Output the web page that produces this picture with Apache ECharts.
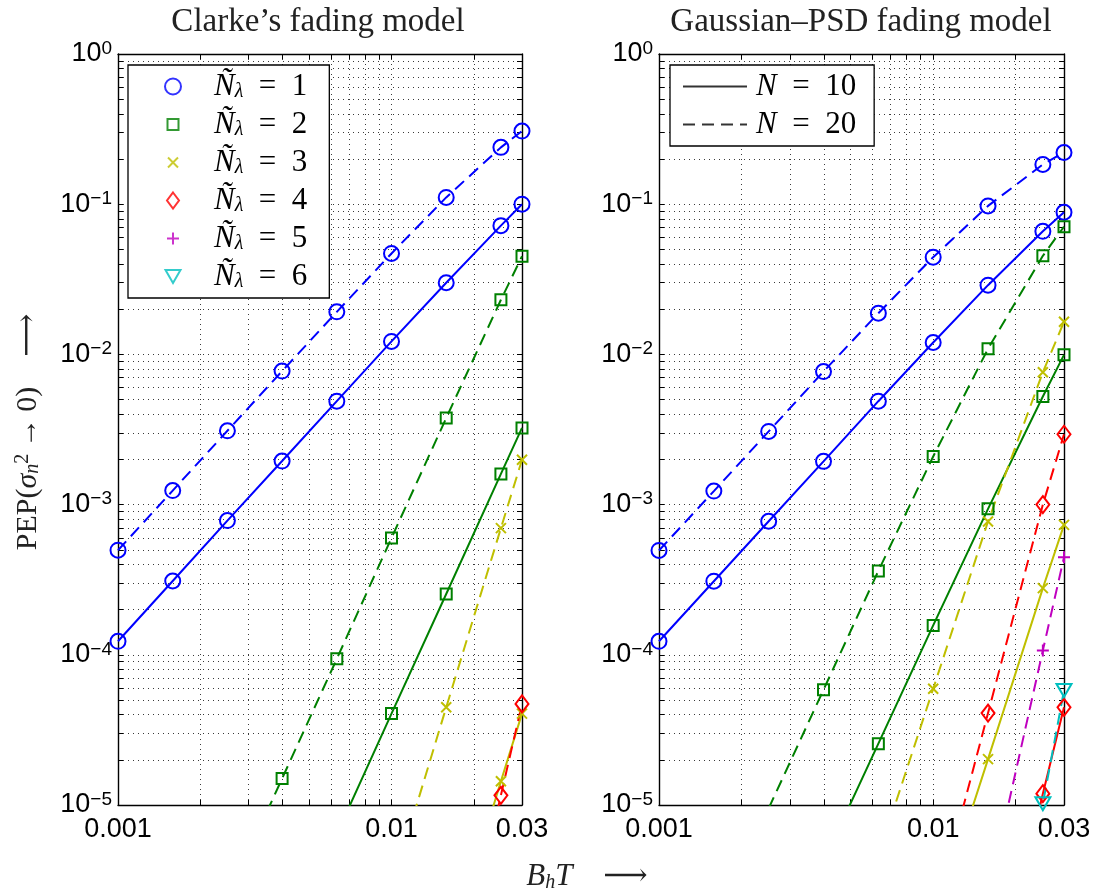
<!DOCTYPE html>
<html><head><meta charset="utf-8">
<script src="https://cdn.jsdelivr.net/npm/echarts@6/dist/echarts.min.js"></script>
<style>html,body{margin:0;padding:0;background:#fff}#c{width:1096px;height:892px}</style>
</head><body><div id="c"></div>
<script>
// ---- data ----
const bhT = [0.001, 0.001585, 0.002512, 0.003981, 0.00631, 0.01, 0.01585, 0.02512, 0.03];

// Clarke's fading model, N = 10 (solid)
const clarkeN10_1 = [1.23e-4, 3.10e-4, 7.83e-4, 1.95e-3, 4.88e-3, 0.0122, 0.0300, 0.0720, 0.100];
const clarkeN10_2 = [null, null, null, null, 6.4e-6, 4.06e-5, 2.54e-4, 1.60e-3, 3.24e-3];
const clarkeN10_3 = [null, null, null, null, null, null, 9e-7, 1.44e-5, 4.06e-5];
// Clarke's fading model, N = 20 (dashed)
const clarkeN20_1 = [4.97e-4, 1.24e-3, 3.10e-3, 7.74e-3, 0.0192, 0.0470, 0.111, 0.239, 0.307];
const clarkeN20_2 = [null, null, 2.4e-6, 1.50e-5, 9.4e-5, 6.0e-4, 3.77e-3, 0.0231, 0.0450];
const clarkeN20_3 = [null, null, null, null, null, 2.8e-6, 4.47e-5, 6.97e-4, 1.99e-3];
const clarkeN20_4 = [null, null, null, null, null, null, 2.9e-7, 1.16e-5, 4.71e-5];

// Gaussian-PSD fading model, N = 10 (solid)
const gaussN10_1 = [1.23e-4, 3.09e-4, 7.75e-4, 1.94e-3, 4.88e-3, 0.0120, 0.0289, 0.0660, 0.0884];
const gaussN10_2 = [null, null, null, 4.2e-6, 2.56e-5, 1.57e-4, 9.37e-4, 5.24e-3, 9.93e-3];
const gaussN10_3 = [null, null, null, null, null, 1.5e-6, 2.02e-5, 2.78e-4, 7.33e-4];
const gaussN10_4 = [null, null, null, null, null, null, 3e-7, 1.19e-5, 4.47e-5];
// Gaussian-PSD fading model, N = 20 (dashed)
const gaussN20_1 = [4.95e-4, 1.23e-3, 3.07e-3, 7.69e-3, 0.0188, 0.0444, 0.0974, 0.184, 0.221];
const gaussN20_2 = [null, null, 9.5e-6, 5.85e-5, 3.62e-4, 2.09e-3, 0.0109, 0.0453, 0.0709];
const gaussN20_3 = [null, null, null, null, 4.6e-6, 5.94e-5, 7.72e-4, 7.61e-3, 0.0165];
const gaussN20_4 = [null, null, null, null, null, 1.7e-6, 4.09e-5, 1.0e-3, 2.94e-3];
const gaussN20_5 = [null, null, null, null, null, null, 2.5e-6, 1.07e-4, 4.46e-4];
const gaussN20_6 = [null, null, null, null, null, null, 1.5e-7, 1.02e-5, 5.79e-5];

const xTickLabels = [0.001, 0.01, 0.03];
const xGridValues = [0.001, 0.002, 0.003, 0.004, 0.005, 0.006, 0.007, 0.008, 0.009, 0.01, 0.02, 0.03];
const yTickLabels = [1e-5, 1e-4, 1e-3, 1e-2, 1e-1, 1];
const yGridValues = [1e-5, 2e-5, 3e-5, 4e-5, 5e-5, 6e-5, 7e-5, 8e-5, 9e-5,
  1e-4, 2e-4, 3e-4, 4e-4, 5e-4, 6e-4, 7e-4, 8e-4, 9e-4,
  1e-3, 2e-3, 3e-3, 4e-3, 5e-3, 6e-3, 7e-3, 8e-3, 9e-3,
  1e-2, 2e-2, 3e-2, 4e-2, 5e-2, 6e-2, 7e-2, 8e-2, 9e-2,
  0.1, 0.2, 0.3, 0.4, 0.5, 0.6, 0.7, 0.8, 0.9, 1];

const legendOrders = [1, 2, 3, 4, 5, 6];
const legendN = ['N = 10', 'N = 20'];
const panelTitles = ["Clarke\u2019s fading model", 'Gaussian\u2013PSD fading model'];

// ---- styles ----
const COLORS = ['#0000ff', '#008000', '#bfbf00', '#ff0000', '#bf00bf', '#00bfbf'];
const SYM = ['circle', 'rect', 'path://M0,0L10,10M10,0L0,10', 'diamond', 'path://M5,0L5,10M0,5L10,5', 'path://M0,0L10,0L5,8.7Z'];
const SYMSIZE = [15, 11, 10, [13, 17], 12, [15, 13]];
const ICON = [
  'circle',
  'path://M0,0M2.5,2.5L13.5,2.5L13.5,13.5L2.5,13.5ZM16,16',
  'path://M0,0M3,3L13,13M13,3L3,13M16,16',
  'path://M0,0M8,0L14,8L8,16L2,8ZM16,16',
  'path://M0,0M8,2L8,14M2,8L14,8M16,16',
  'path://M0,0M0.5,1.5L15.5,1.5L8,14.5ZM16,16'
];
const DASH = [12, 7];
const TRANSP = 'rgba(0,0,0,0)';
const LW = 2;

function curve(name, ys, k, dashed, ai) {
  const c = COLORS[k - 1];
  return {
    type: 'line', name: name, xAxisIndex: ai, yAxisIndex: ai,
    data: bhT.map((x, i) => [x, ys[i] == null ? '-' : ys[i]]),
    symbol: SYM[k - 1], symbolSize: SYMSIZE[k - 1], showSymbol: true,
    itemStyle: { color: TRANSP, borderColor: c, borderWidth: LW },
    lineStyle: { color: c, width: LW, type: dashed ? DASH : 'solid' },
    clip: true, silent: true, z: 3
  };
}

const series = [
  curve('c10_1', clarkeN10_1, 1, false, 0),
  curve('c10_2', clarkeN10_2, 2, false, 0),
  curve('c10_3', clarkeN10_3, 3, false, 0),
  curve('c20_1', clarkeN20_1, 1, true, 0),
  curve('c20_2', clarkeN20_2, 2, true, 0),
  curve('c20_3', clarkeN20_3, 3, true, 0),
  curve('c20_4', clarkeN20_4, 4, true, 0),
  curve('g10_1', gaussN10_1, 1, false, 2),
  curve('g10_2', gaussN10_2, 2, false, 2),
  curve('g10_3', gaussN10_3, 3, false, 2),
  curve('g10_4', gaussN10_4, 4, false, 2),
  curve('g20_1', gaussN20_1, 1, true, 2),
  curve('g20_2', gaussN20_2, 2, true, 2),
  curve('g20_3', gaussN20_3, 3, true, 2),
  curve('g20_4', gaussN20_4, 4, true, 2),
  curve('g20_5', gaussN20_5, 5, true, 2),
  curve('g20_6', gaussN20_6, 6, true, 2)
];
// legend-only entries
legendOrders.forEach(k => {
  series.push({ type: 'scatter', name: 'L' + k, xAxisIndex: 0, yAxisIndex: 0, data: [],
    symbol: SYM[k - 1], itemStyle: { color: TRANSP, borderColor: COLORS[k - 1], borderWidth: LW } });
});
legendN.forEach((n, i) => {
  series.push({ type: 'scatter', name: n, xAxisIndex: 2, yAxisIndex: 2, data: [],
    itemStyle: { color: TRANSP, borderColor: '#000', borderWidth: LW, borderType: i ? DASH : 'solid' } });
});

const gridLine = { lineStyle: { type: [1, 4], color: '#3a3a3a', width: 1 } };
const SANS = 'Liberation Sans, Arial, sans-serif';
const SERIF = 'Liberation Serif, DejaVu Serif, serif';

function xAx(gi, bottom) {
  return {
    type: 'log', logBase: 10, gridIndex: gi, position: bottom ? 'bottom' : 'top',
    min: 0.001, max: 0.03,
    axisLine: { show: true, onZero: false, lineStyle: { color: '#000', width: 1.4 } },
    axisTick: { show: true, inside: true, length: 5, customValues: xGridValues, lineStyle: { color: '#000', width: 1 } },
    axisLabel: { show: bottom, customValues: xTickLabels, margin: 11, color: '#000', fontFamily: SANS, fontSize: 27,
      formatter: v => String(Number(Number(v).toPrecision(2))) },
    splitLine: Object.assign({ show: bottom }, gridLine),
    minorTick: { show: false }, minorSplitLine: { show: false }
  };
}
function yAx(gi, left) {
  return {
    type: 'log', logBase: 10, gridIndex: gi, position: left ? 'left' : 'right',
    min: 1e-5, max: 1,
    axisLine: { show: true, onZero: false, lineStyle: { color: '#000', width: 1.4 } },
    axisTick: { show: true, inside: true, length: 5, customValues: yGridValues, lineStyle: { color: '#000', width: 1 } },
    axisLabel: { show: left, customValues: yTickLabels, margin: 6, color: '#000',
      formatter: v => { const e = Math.round(Math.log10(v)); return '{b|10}{e|' + (e === 0 ? '0' : '\u2212' + (-e)) + '}'; },
      rich: {
        b: { fontFamily: SANS, fontSize: 27, lineHeight: 30, color: '#000' },
        e: { fontFamily: SANS, fontSize: 19, lineHeight: 2, verticalAlign: 'top', color: '#000' }
      } },
    splitLine: Object.assign({ show: left }, gridLine),
    minorTick: { show: false }, minorSplitLine: { show: false }
  };
}

const legRich = {
  n: { fontFamily: SERIF, fontStyle: 'italic', fontSize: 31, lineHeight: 30, color: '#000' },
  n2: { fontFamily: SERIF, fontStyle: 'italic', fontSize: 31, lineHeight: 30, color: '#000', padding: [0, 0, 0, 4] },
  s: { fontFamily: SERIF, fontStyle: 'italic', fontSize: 20, lineHeight: 12, verticalAlign: 'bottom', color: '#000' },
  r: { fontFamily: SERIF, fontSize: 31, lineHeight: 30, color: '#000' }
};

const option = {
  animation: false,
  backgroundColor: '#fff',
  grid: [
    { left: 118, top: 54, width: 404, height: 751 },
    { left: 659, top: 54, width: 405, height: 751 }
  ],
  xAxis: [xAx(0, true), xAx(0, false), xAx(1, true), xAx(1, false)],
  yAxis: [yAx(0, true), yAx(0, false), yAx(1, true), yAx(1, false)],
  legend: [
    {
      data: legendOrders.map(k => ({ name: 'L' + k, icon: ICON[k - 1],
        itemStyle: { color: TRANSP, borderColor: COLORS[k - 1], borderWidth: LW } })),
      orient: 'vertical', left: 128, top: 65, padding: [6, 22, 6, 36],
      itemWidth: 72, itemHeight: 16, itemGap: 7,
      backgroundColor: '#fff', borderColor: '#000', borderWidth: 1.3, borderRadius: 0,
      selectedMode: false, z: 10,
      textStyle: { rich: legRich, color: '#000' },
      formatter: name => '{n|\u00d1}{s|\u03bb}{r|\u2002=\u2002' + name.slice(1) + '}'
    },
    {
      data: legendN.map((n, i) => ({ name: n, icon: 'path://M0,0M0,8L64,8M64,16',
        itemStyle: { color: TRANSP, borderColor: '#000', borderWidth: LW, borderType: i ? DASH : 'solid' } })),
      orient: 'vertical', left: 670, top: 65, padding: [6, 18, 6, 12],
      itemWidth: 64, itemHeight: 16, itemGap: 7,
      backgroundColor: '#fff', borderColor: '#000', borderWidth: 1.3, borderRadius: 0,
      selectedMode: false, z: 10,
      textStyle: { rich: legRich, color: '#000' },
      formatter: name => '{n2|N}{r|\u2002=\u2002' + name.split('= ')[1] + '}'
    }
  ],
  graphic: [
    { type: 'text', x: 318, y: 22, style: { text: panelTitles[0], align: 'center', verticalAlign: 'middle',
      font: '33px ' + SERIF, fill: '#222' } },
    { type: 'text', x: 861, y: 22, style: { text: panelTitles[1], align: 'center', verticalAlign: 'middle',
      font: '33px ' + SERIF, fill: '#222' } },
    { type: 'text', x: 28, y: 432, rotation: Math.PI / 2, style: {
      text: '{r|PEP(}{i|\u03c3}{sub|n}{sup|2}{r|\u2009\u2192\u20090)\u2003\u27f6}',
      align: 'center', verticalAlign: 'middle',
      rich: {
        r: { fontFamily: SERIF, fontSize: 30, lineHeight: 30, fill: '#222' },
        i: { fontFamily: SERIF, fontStyle: 'italic', fontSize: 30, lineHeight: 30, fill: '#222' },
        sub: { fontFamily: SERIF, fontStyle: 'italic', fontSize: 20, lineHeight: 10, verticalAlign: 'bottom', fill: '#222' },
        sup: { fontFamily: SERIF, fontSize: 20, lineHeight: 4, verticalAlign: 'top', fill: '#222' }
      } } },
    { type: 'text', x: 587, y: 877, style: {
      text: '{i|B}{sub|h}{i|T}{r|\u2003\u27f6}',
      align: 'center', verticalAlign: 'middle',
      rich: {
        r: { fontFamily: SERIF, fontSize: 31, lineHeight: 32, fill: '#222' },
        i: { fontFamily: SERIF, fontStyle: 'italic', fontSize: 31, lineHeight: 32, fill: '#222' },
        sub: { fontFamily: SERIF, fontStyle: 'italic', fontSize: 20, lineHeight: 10, verticalAlign: 'bottom', fill: '#222' }
      } } }
  ],
  series: series
};

const chart = echarts.init(document.getElementById('c'), null, { renderer: 'canvas' });
chart.setOption(option);
</script>
</body></html>
